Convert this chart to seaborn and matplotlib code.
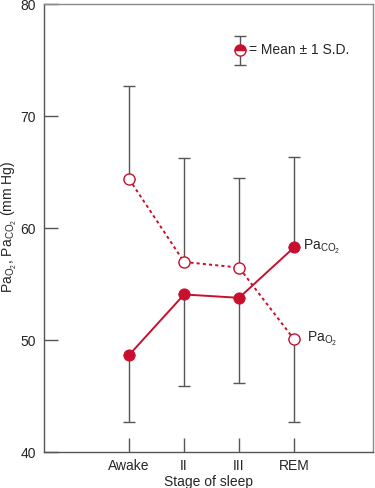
import numpy as np
import pandas as pd
import matplotlib
matplotlib.use("Agg")
import matplotlib.pyplot as plt
import seaborn as sns

# Data
stages = ["Awake", "II", "III", "REM"]
pao2 = [64.4, 57.0, 56.5, 50.1]
paco2 = [48.7, 54.1, 53.8, 58.3]
# one-sided S.D. bars: +1 = drawn upward, -1 = drawn downward
pao2_sd = [8.3, 9.3, 8.0, 7.4]
pao2_dir = [1, 1, 1, -1]
paco2_sd = [6.0, 8.2, 7.6, 8.1]
paco2_dir = [-1, -1, -1, 1]

red = "#C8102E"
bar_grey = "#555555"
frame_grey = "#8a8a8a"

sns.set_style("white")
plt.rcParams["font.family"] = ["Liberation Sans", "DejaVu Sans"]
plt.rcParams["mathtext.fontset"] = "custom"
plt.rcParams["mathtext.rm"] = "Liberation Sans"
plt.rcParams["mathtext.it"] = "Liberation Sans"

pos = np.arange(len(stages))
df = pd.DataFrame({"pos": pos, "pao2": pao2, "paco2": paco2})

fig = plt.figure(figsize=(3.75, 4.88), dpi=100)
ax = fig.add_axes([0.118, 0.073, 0.877, 0.918])

# error bars (one-sided)
def sd_bars(vals, sd, dirs):
    lower = [s if d < 0 else 0 for s, d in zip(sd, dirs)]
    upper = [s if d > 0 else 0 for s, d in zip(sd, dirs)]
    ax.errorbar(pos, vals, yerr=[lower, upper], fmt="none", ecolor=bar_grey,
                elinewidth=1.0, capsize=4, capthick=1.0, zorder=1)

sd_bars(pao2, pao2_sd, pao2_dir)
sd_bars(paco2, paco2_sd, paco2_dir)

sns.lineplot(data=df, x="pos", y="paco2", ax=ax, color=red, linewidth=1.4,
             marker="o", markersize=8, markerfacecolor=red, markeredgecolor=red,
             zorder=3)
sns.lineplot(data=df, x="pos", y="pao2", ax=ax, color=red, linewidth=1.4,
             linestyle=(0, (1.6, 1.6)), marker="o", markersize=8,
             markerfacecolor="white", markeredgecolor=red, markeredgewidth=1.0,
             zorder=3)

ax.text(pos[3] + 0.17, paco2[3], "Pa$_{\\mathregular{CO_2}}$", fontsize=10,
        va="center", ha="left")
ax.text(pos[3] + 0.24, pao2[3], "Pa$_{\\mathregular{O_2}}$", fontsize=10,
        va="center", ha="left")

# key: Mean +/- 1 S.D.
kx, ky = 2.02, 75.9
ax.errorbar([kx], [ky], yerr=[[1.3], [1.3]], fmt="none", ecolor=bar_grey,
            elinewidth=1.0, capsize=4, capthick=1.0, zorder=1)
ax.plot([kx], [ky], marker="o", markersize=8, fillstyle="top",
        markerfacecolor=red, markerfacecoloralt="white", markeredgecolor=red,
        markeredgewidth=1.0, zorder=3)
ax.text(kx + 0.17, ky, "= Mean \u00b1 1 S.D.", fontsize=10, va="center", ha="left")

ax.set_xlim(-1.545, 4.44)
ax.set_ylim(40, 80)
ax.set_xticks(pos)
ax.set_xticklabels(stages)
ax.set_yticks([40, 50, 60, 70, 80])
ax.tick_params(axis="both", direction="in", length=10, width=1.0,
               color=bar_grey, labelsize=10, bottom=True, left=True)
ax.tick_params(axis="x", pad=5)
ax.tick_params(axis="y", pad=6)
ax.set_xlabel("Stage of sleep", fontsize=10, labelpad=1)
ax.set_ylabel("")
fig.text(0.026, 0.535,
         "Pa$_{\\mathregular{O_2}}$, Pa$_{\\mathregular{CO_2}}$ (mm Hg)",
         fontsize=10, rotation=90, ha="center", va="center")
for s in ax.spines.values():
    s.set_color(frame_grey)
    s.set_linewidth(1.0)
ax.spines["bottom"].set_color("#555555")
ax.spines["left"].set_color("#555555")

fig.savefig("out.png", dpi=100)
